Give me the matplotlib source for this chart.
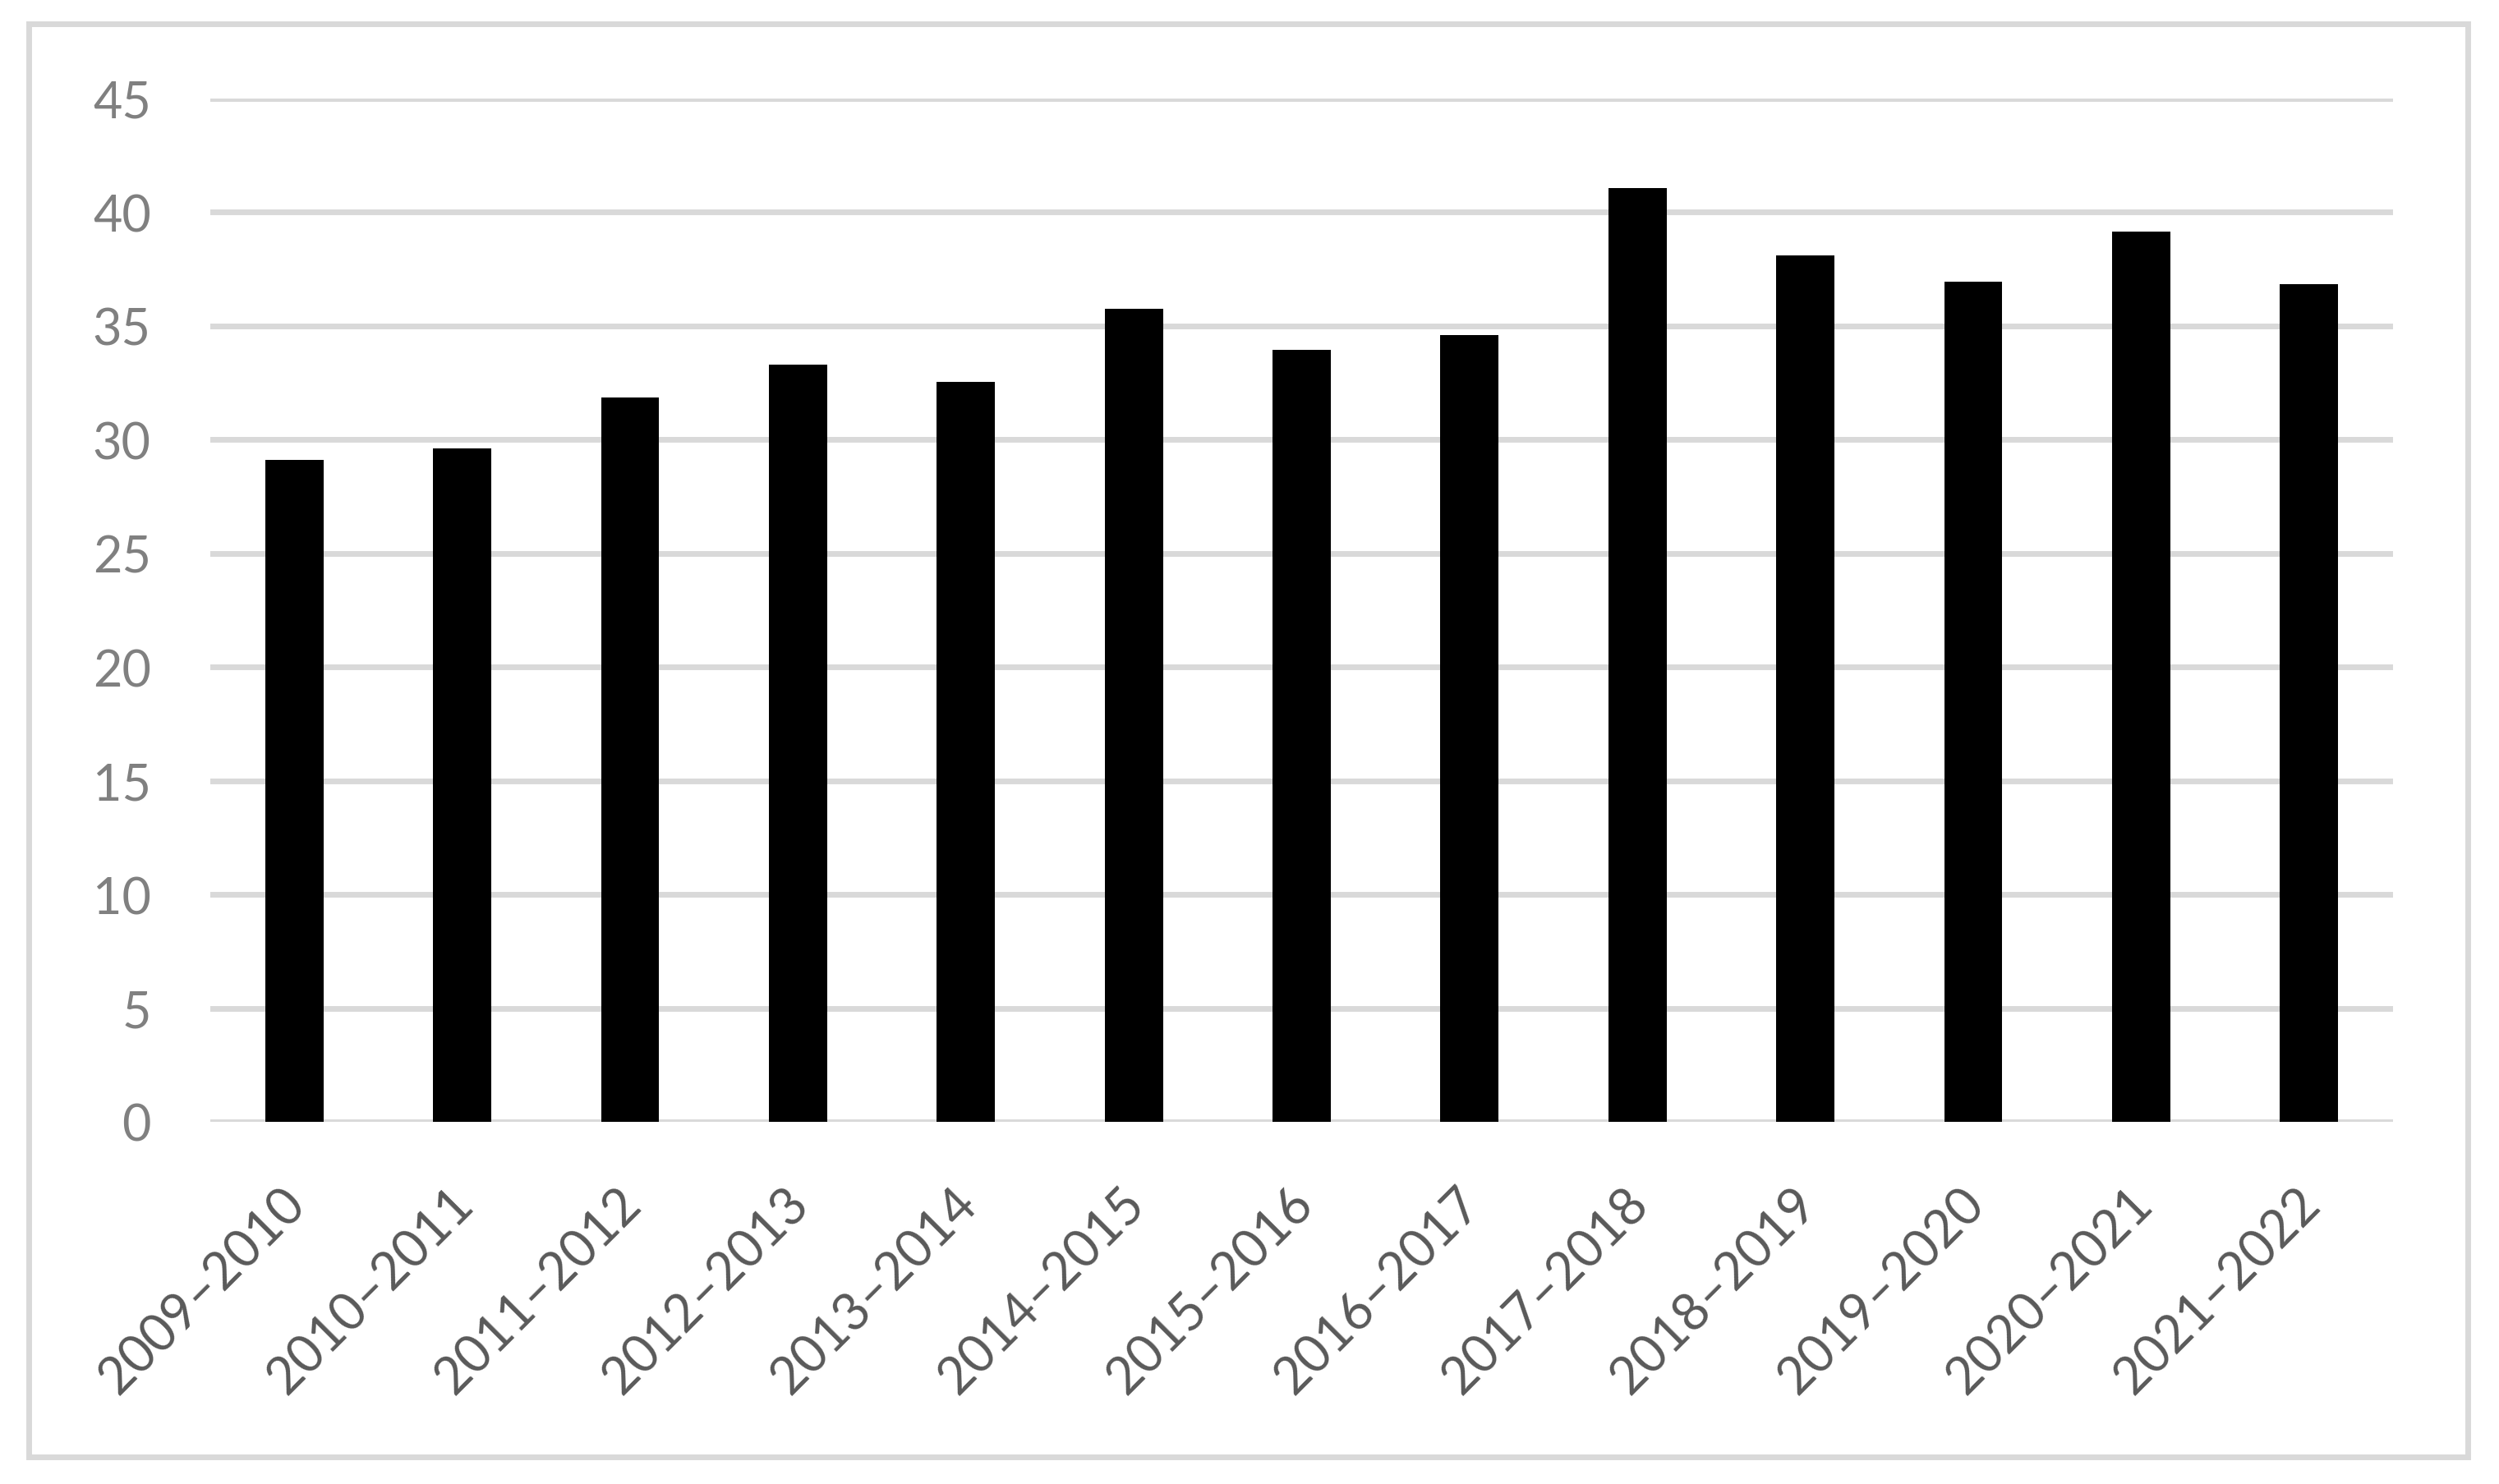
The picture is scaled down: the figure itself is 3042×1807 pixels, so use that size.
import matplotlib
matplotlib.use("Agg")
import matplotlib.pyplot as plt
import matplotlib.transforms as mtrans
from matplotlib.patches import Rectangle

categories = ["2009–2010", "2010–2011", "2011–2012", "2012–2013", "2013–2014",
              "2014–2015", "2015–2016", "2016–2017", "2017–2018", "2018–2019",
              "2019–2020", "2020–2021", "2021–2022"]
values = [29.1, 29.6, 31.85, 33.3, 32.55, 35.75, 33.95, 34.6, 41.05, 38.1, 36.93, 39.15, 36.85]
yticks = [0, 5, 10, 15, 20, 25, 30, 35, 40, 45]

plt.rcParams['font.family'] = ['Lato', 'DejaVu Sans']

W, H = 3042, 1808
fig = plt.figure(figsize=(W / 100, H / 100), dpi=100)
ax = fig.add_axes([256 / W, 1 - 1367 / H, (2913 - 256) / W, (1367 - 121) / H])

x = list(range(len(categories)))
ax.bar(x, values, width=0.347, color="black", zorder=3)
ax.set_xlim(-0.5, len(categories) - 0.5)
ax.set_ylim(0, 45)
ax.set_yticks(yticks)
ax.set_yticklabels([str(t) for t in yticks], fontsize=44, color="#808080")
ax.yaxis.grid(True, color="#d9d9d9", linewidth=5, zorder=0)
ax.set_axisbelow(True)
for s in ax.spines.values():
    s.set_visible(False)
ax.tick_params(axis="y", length=0, pad=52)
ax.tick_params(axis="x", length=0, pad=50)
ax.set_xticks(x)
ax.set_xticklabels(categories, fontsize=45, color="#595959", rotation=45,
                   ha="right", va="top", rotation_mode="anchor")
offset = mtrans.ScaledTranslation(-12 / 72, 0, fig.dpi_scale_trans)
for lab in ax.get_xticklabels():
    lab.set_transform(lab.get_transform() + offset)

fig.patches.append(Rectangle((34.5 / W, 1 - 1775 / H), (3004 - 34.5) / W, (1775 - 30) / H,
                             transform=fig.transFigure, fill=False,
                             edgecolor="#d9d9d9", linewidth=5))

fig.savefig("out.png", dpi=100, facecolor="white")
